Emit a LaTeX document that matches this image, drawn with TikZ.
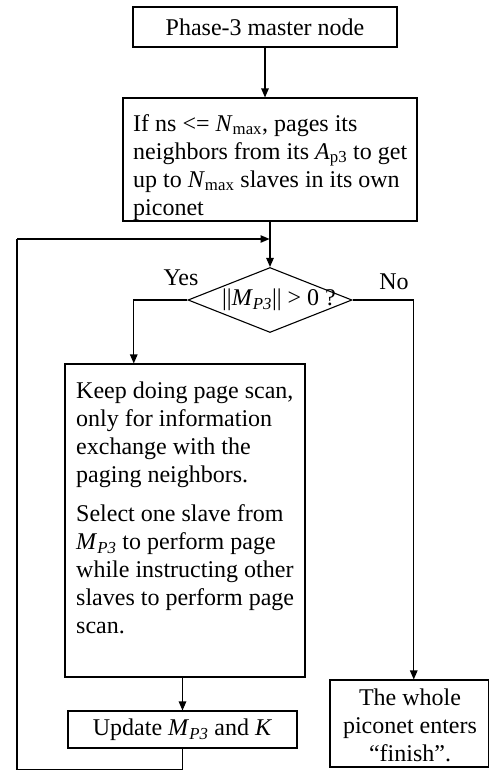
\documentclass[tikz,border=0pt]{standalone}
\usepackage{fontspec}
\setmainfont{Liberation Serif}
\usetikzlibrary{arrows.meta,shapes.geometric,calc}
\newcommand\Mpt{\textit{M}\textsubscript{\textit{P3}}}
\newcommand\Nmax{\textit{N}\textsubscript{max}}
\tikzset{
  box/.style={draw, line width=1.1pt, rectangle, inner sep=0pt},
  txt/.style={inner sep=0pt, font=\fontsize{24}{28}\selectfont},
  arr/.style={line width=1.1pt, -{Triangle[length=9pt,width=7.5pt]}},
  ln/.style={line width=1.1pt},
}
\begin{document}
\begin{tikzpicture}[x=1pt,y=-1pt]
\useasboundingbox (0,0) rectangle (489,771);

% start box
\node[box, minimum width=264pt, minimum height=40pt] (top) at (265,27) {};
\node[txt] (toptext) at (265,27) {Phase-3 master node};

% paging box
\node[box, minimum width=294pt, minimum height=123pt] (page) at (270,159.5) {};
\node[txt, anchor=north west, align=left] (pagetext) at (133,114)
  {If ns <= \Nmax, pages its\\
   neighbors from its \textit{A}\textsubscript{p3} to get\\
   up to \Nmax{} slaves in its own\\
   piconet};

% decision
\node[draw, line width=1.1pt, diamond, minimum width=164pt, minimum height=65pt, inner sep=0pt] (dec) at (270,300) {};
\node[txt] (dectext) at (279,300) {||\Mpt|| > 0 ?};
\node[txt] (yes) at (181,278) {Yes};
\node[txt] (no) at (394,282) {No};

% page-scan box
\node[box, minimum width=240pt, minimum height=313pt] (keep) at (185,520.5) {};
\node[txt, anchor=north west, align=left] (keeptext) at (76,382)
  {Keep doing page scan,\\
   only for information\\
   exchange with the\\
   paging neighbors.\\[11pt]
   Select one slave from\\
   \Mpt{} to perform page\\
   while instructing other\\
   slaves to perform page\\
   scan.};

% update box
\node[box, minimum width=229pt, minimum height=37pt] (update) at (182.5,729.5) {};
\node[txt] (updatetext) at (182.5,729.5) {Update \Mpt{} and \textit{K}};

% finish box
\node[box, minimum width=158.5pt, minimum height=87pt] (finish) at (409.25,723.5) {};
\node[txt, align=center] (finishtext) at (410,725)
  {The whole\\ piconet enters\\ “finish”.};

% connectors
\coordinate (loopa) at (182.5,769.5);
\coordinate (loopb) at (17,769.5);
\coordinate (loopc) at (17,239);
\coordinate (merge) at (269.5,239);

\draw[arr] (top.south) -- (top.south |- page.north);
\draw[arr] (page.south) -- (dec.north);
\draw[arr] (dec.west) -| ($(keep.north west)!0.2875!(keep.north east)$);
\draw[arr] (dec.east) -| ($(finish.north)+(4.5,0)$);
\draw[arr] (keep.south -| update.north) -- (update.north);
\draw[ln] (update.south) -- (loopa) -- (loopb) -- (loopc);
\draw[arr] (loopc) -- (merge);
\end{tikzpicture}
\end{document}
